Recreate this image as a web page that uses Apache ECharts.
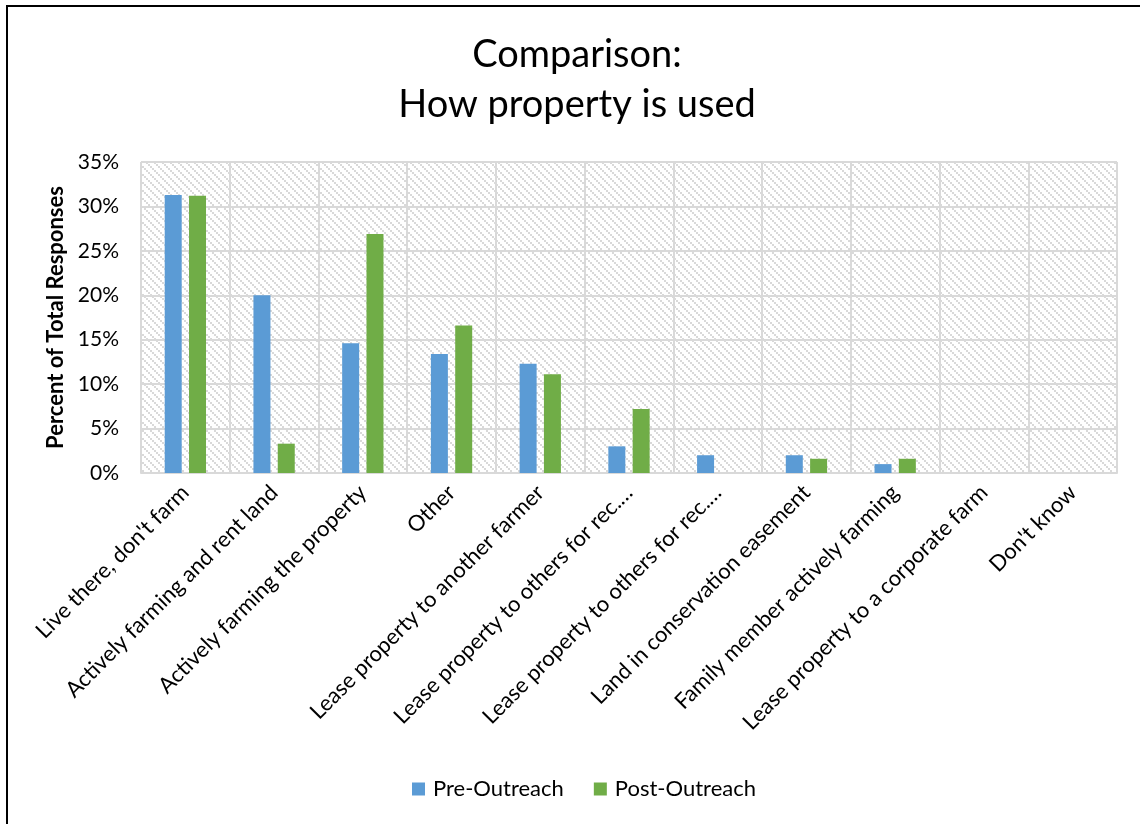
<!DOCTYPE html>
<html>
<head>
<meta charset="utf-8">
<script src="https://cdn.jsdelivr.net/npm/echarts@6/dist/echarts.min.js"></script>
<style>
  html, body { margin: 0; padding: 0; background: #fff; }
  #chart { width: 1140px; height: 824px; }
  #frame {
    position: absolute; left: 6px; top: 5px; width: 1140px; height: 830px;
    border-left: 2px solid #000; border-top: 2px solid #000; pointer-events: none;
  }
</style>
</head>
<body>
<div id="chart"></div>
<div id="frame"></div>
<script>
const categories = [
  "Live there, don't farm",
  'Actively farming and rent land',
  'Actively farming the property',
  'Other',
  'Lease property to another farmer',
  'Lease property to others for rec.…',
  'Lease property to others for rec.…',
  'Land in conservation easement',
  'Family member actively farming',
  'Lease property to a corporate farm',
  "Don't know"
];
const preOutreach = [31.3, 20.0, 14.6, 13.4, 12.3, 3.0, 2.0, 2.0, 1.0, 0, 0];
const postOutreach = [31.2, 3.3, 26.9, 16.6, 11.1, 7.2, 0, 1.6, 1.6, 0, 0];
const yTicks = [0, 5, 10, 15, 20, 25, 30, 35];

const FONT = 'Lato';
const GRID_COLOR = '#d9d9d9';

// light downward-diagonal hatch, like the Excel plot area fill
function hatchPattern() {
  const c = document.createElement('canvas');
  c.width = 8;
  c.height = 8;
  const ctx = c.getContext('2d');
  ctx.fillStyle = '#fff';
  ctx.fillRect(0, 0, 8, 8);
  ctx.fillStyle = '#d9d9d9';
  for (let i = 0; i < 4; i++) {
    ctx.fillRect(i * 2, i * 2, 2, 2);
  }
  return { image: c, repeat: 'repeat' };
}

const chart = echarts.init(document.getElementById('chart'));

chart.setOption({
  animation: false,
  backgroundColor: '#fff',
  textStyle: { fontFamily: FONT },
  title: {
    text: 'Comparison:\nHow property is used',
    left: 572,
    textAlign: 'center',
    top: 25,
    textStyle: {
      fontFamily: FONT, fontSize: 38, fontWeight: 'normal', color: '#000', lineHeight: 50
    }
  },
  legend: {
    bottom: 19,
    left: 407,
    itemWidth: 13,
    itemHeight: 13,
    itemGap: 30,
    icon: 'rect',
    textStyle: { fontFamily: FONT, fontSize: 22, color: '#000', padding: [0, 0, 0, 3] },
    data: ['Pre-Outreach', 'Post-Outreach']
  },
  grid: {
    left: 141,
    right: 23,
    top: 162,
    bottom: 351,
    show: true,
    borderWidth: 0,
    backgroundColor: hatchPattern()
  },
  xAxis: {
    type: 'category',
    data: categories,
    axisTick: { show: false },
    axisLine: { lineStyle: { color: GRID_COLOR, width: 2 } },
    splitLine: { show: true, lineStyle: { color: GRID_COLOR, width: 2 } },
    axisLabel: {
      interval: 0,
      rotate: 45,
      margin: 16,
      fontFamily: FONT,
      fontSize: 22,
      color: '#000'
    }
  },
  yAxis: {
    type: 'value',
    min: 0,
    max: 35,
    interval: 5,
    name: 'Percent of Total Responses',
    nameLocation: 'middle',
    nameGap: 70,
    nameTextStyle: { fontFamily: FONT, fontSize: 22, fontWeight: 'bold', color: '#000' },
    axisLine: { show: false },
    axisTick: { show: false },
    splitLine: { lineStyle: { color: GRID_COLOR, width: 2 } },
    axisLabel: {
      margin: 22,
      fontFamily: FONT,
      fontSize: 21,
      color: '#000',
      formatter: v => (yTicks.includes(v) ? v + '%' : '')
    }
  },
  series: [
    {
      name: 'Pre-Outreach',
      type: 'bar',
      data: preOutreach,
      barWidth: 17,
      barGap: '43%',
      itemStyle: { color: '#5b9bd5' }
    },
    {
      name: 'Post-Outreach',
      type: 'bar',
      data: postOutreach,
      barWidth: 17,
      barGap: '43%',
      itemStyle: { color: '#70ad47' }
    }
  ]
});
</script>
</body>
</html>
